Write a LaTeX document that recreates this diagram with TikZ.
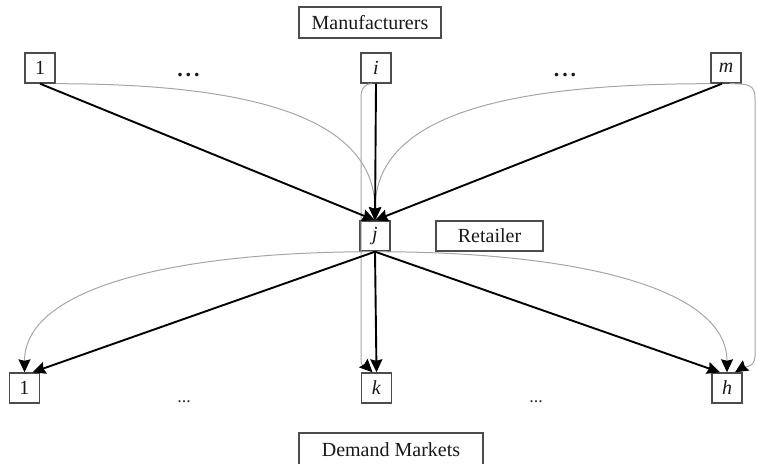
\documentclass[tikz,border=0pt]{standalone}
\usepackage{fontspec}
\setmainfont{Liberation Serif}
\usetikzlibrary{arrows.meta}
\begin{document}
\begin{tikzpicture}[x=1pt,y=-1pt,
  txt/.style={font=\fontsize{20}{24}\selectfont, text=black!90},
  agent/.style={txt, draw=black!70, line width=1.4pt, minimum width=30pt,
    minimum height=30pt, inner sep=0pt},
  tier/.style={txt, draw=black!70, line width=1.4pt, inner sep=0pt},
  headtip/.style={-{Stealth[length=13pt,width=12pt,inset=1.5pt,color=black]}},
  flow/.style={headtip, draw=black, line width=1.9pt},
  alt/.style={headtip, draw=black!35, line width=1pt},
  gap/.style={font=\fontsize{18}{20}\selectfont, text=black!80, anchor=base, inner sep=0pt},
  biggap/.style={font=\fontsize{22}{24}\selectfont\bfseries, text=black!90, anchor=base, inner sep=0pt}]
\useasboundingbox (0,0) rectangle (757,463);
\clip (0,0) rectangle (757,463);

% tier labels
\node[tier, minimum width=142pt, minimum height=31pt] (manu) at (370,22.5) {Manufacturers};
\node[tier, minimum width=107pt, minimum height=30pt] (ret) at (489.5,236) {Retailer};
\node[tier, minimum width=184pt, minimum height=33pt] (dem) at (391,449.5) {Demand Markets};

% manufacturers
\node[agent] (m1) at (40,68) {1};
\node[agent] (mi) at (376,68) {\textit{i}};
\node[agent] (mm) at (726,68) {\textit{m}};
\node[biggap] (dotsA) at (188.5,76) {.\hspace{3pt}.\hspace{3pt}.};
\node[biggap] (dotsB) at (565,76) {.\hspace{3pt}.\hspace{3pt}.};

% retailer
\node[agent] (rj) at (375,236) {\textit{j}};

% demand markets
\node[agent] (d1) at (24.5,388) {1};
\node[agent] (dk) at (376.5,388) {\textit{k}};
\node[agent] (dh) at (727,388) {\textit{h}};
\node[gap] (dotsC) at (184,402) {...};
\node[gap] (dotsD) at (536,402) {...};

% bend points of the direct manufacturer-to-market links
\coordinate (ikA) at (361,98);
\coordinate (ikB) at (361,360);
\coordinate (mhA) at (755,99);
\coordinate (mhB) at (755,356);

% alternative (grey) links
\draw[alt] (m1.south east) .. controls +(175,0) and +(0,-110) .. (rj.north);
\draw[alt] (mm.south west) .. controls +(-190,0) and +(0,-110) .. (rj.north);
\draw[alt] (rj.south) .. controls +(-200,0) and +(0,-85) .. (d1.north);
\draw[alt] (rj.south) .. controls +(200,0) and +(0,-85) .. (dh.north);
\draw[alt] ([xshift=-4pt]mi.south) .. controls +(-8,0) and +(0,-9) .. (ikA) -- (ikB)
  .. controls +(0,8) and +(-6,-6) .. ([xshift=-4pt]dk.north);
\draw[alt] ([xshift=-12pt]mm.south east) .. controls +(20,0) and +(0,-14) .. (mhA) -- (mhB)
  .. controls +(0,12) and +(8,-5) .. ([xshift=8pt]dh.north);

% main (black) links
\draw[flow] (m1.south) -- (rj.north);
\draw[flow] (mi.south) -- (rj.north);
\draw[flow] ([xshift=-4pt]mm.south) -- (rj.north);
\draw[flow] (rj.south) -- ([xshift=8pt]d1.north);
\draw[flow] (rj.south) -- (dk.north);
\draw[flow] (rj.south) -- ([xshift=-7pt]dh.north);
\end{tikzpicture}
\end{document}
